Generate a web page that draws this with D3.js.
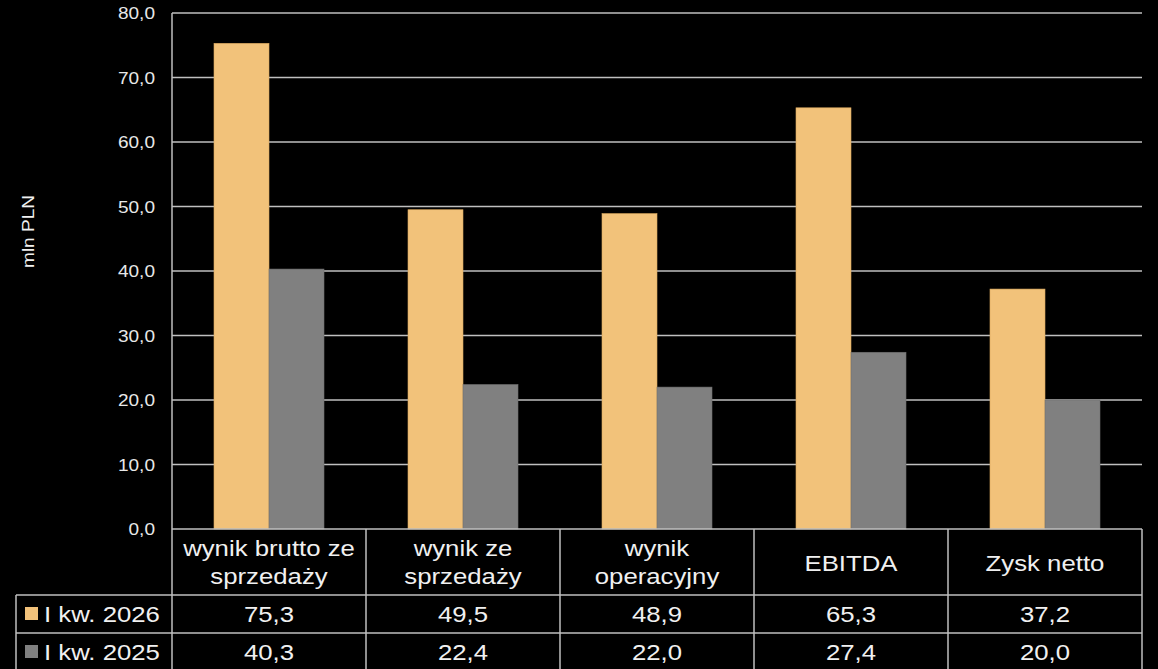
<!DOCTYPE html>
<html><head><meta charset="utf-8">
<script src="https://cdn.jsdelivr.net/npm/d3@7"></script>
<style>html,body{margin:0;padding:0;background:#000;}svg{display:block;}</style>
</head><body>
<svg id="c" width="1158" height="669"></svg>
<script>
const categories = [["wynik brutto ze","sprzedaży"],["wynik ze","sprzedaży"],["wynik","operacyjny"],["EBITDA"],["Zysk netto"]];
const seriesNames = ["I kw. 2026","I kw. 2025"];
const values2026 = [75.3, 49.5, 48.9, 65.3, 37.2];
const values2025 = [40.3, 22.4, 22.0, 27.4, 20.0];
const yTicks = [0,10,20,30,40,50,60,70,80];
const colors = ["#F2C27A","#808080"];

(function(){
const svg = d3.select("#c");
const fmt = v => d3.format(".1f")(v).replace(".", ",");
const pL = 172, pR = 1142, pT = 13, pB = 529;
const idx = d3.range(categories.length);
const x = d3.scaleBand().domain(idx).range([pL, pR]);
const x1 = d3.scaleBand().domain([0,1]).range([42, x.bandwidth()-42]);
const y = d3.scaleLinear().domain([0,80]).range([pB, pT]);
const txt = "#F0F0F0";
const font = "Liberation Sans, Arial, sans-serif";
const SX = 1.12;

function label(px, py, str, size, anchor, rot) {
  return svg.append("text")
    .attr("transform", `translate(${px},${py})${rot ? " rotate(" + rot + ")" : ""} scale(${SX},1)`)
    .attr("text-anchor", anchor).attr("fill", txt).attr("font-family", font)
    .attr("font-size", size).text(str);
}

// gridlines
svg.append("g").selectAll("line").data(yTicks.filter(d=>d>0)).join("line")
  .attr("x1", pL).attr("x2", pR).attr("y1", d=>y(d)).attr("y2", d=>y(d))
  .attr("stroke", "#BFBFBF").attr("stroke-width", 1.5);

// y axis labels (positions from the scale)
yTicks.forEach(t => label(155, y(t) + 6, fmt(t), 17, "end").attr("fill", "#E8E8E8"));

label(34, 231.5, "mln PLN", 17, "middle", -90);

// bars
const series = [values2026, values2025];
series.forEach((vals, s) => {
  svg.append("g").selectAll("rect").data(idx).join("rect")
    .attr("x", i => x(i) + x1(s)).attr("width", x1.bandwidth())
    .attr("y", i => y(vals[i])).attr("height", i => y(0) - y(vals[i]))
    .attr("fill", colors[s]).attr("stroke", s===0 ? "#D9A85E" : "#707070").attr("stroke-width", 0.6);
});

// table
const row1 = 595, row2 = 633, tblLeft = 16, tblBottom = 669;
const lineCol = "#BFBFBF";
const tl = svg.append("g").attr("stroke", lineCol).attr("stroke-width", 1.5);
tl.append("line").attr("x1", pL).attr("x2", pR).attr("y1", pB).attr("y2", pB);
tl.append("line").attr("x1", tblLeft).attr("x2", pR).attr("y1", row1).attr("y2", row1);
tl.append("line").attr("x1", tblLeft).attr("x2", pR).attr("y1", row2).attr("y2", row2);
tl.append("line").attr("x1", pL).attr("x2", pL).attr("y1", pT).attr("y2", tblBottom);
tl.selectAll(".v").data(idx).join("line").attr("class","v")
  .attr("x1", i => x(i)+x.bandwidth()).attr("x2", i => x(i)+x.bandwidth())
  .attr("y1", pB).attr("y2", tblBottom);
tl.append("line").attr("x1", tblLeft).attr("x2", tblLeft).attr("y1", row1).attr("y2", tblBottom);

const fs = 23;
idx.forEach(i => {
  const lines = categories[i];
  const cx = x(i) + x.bandwidth()/2;
  const base = lines.length === 1 ? [571] : [556, 584];
  lines.forEach((l, k) => label(cx, base[k], l, fs, "middle"));
});
const rowBase = [622, 660];
series.forEach((vals, s) => {
  svg.append("rect").attr("x", 25).attr("y", rowBase[s]-15).attr("width", 13).attr("height", 13).attr("fill", colors[s]);
  label(44, rowBase[s], seriesNames[s], fs, "start");
  idx.forEach(i => label(x(i) + x.bandwidth()/2, rowBase[s], fmt(vals[i]), fs, "middle"));
});
})();
</script>
</body></html>
